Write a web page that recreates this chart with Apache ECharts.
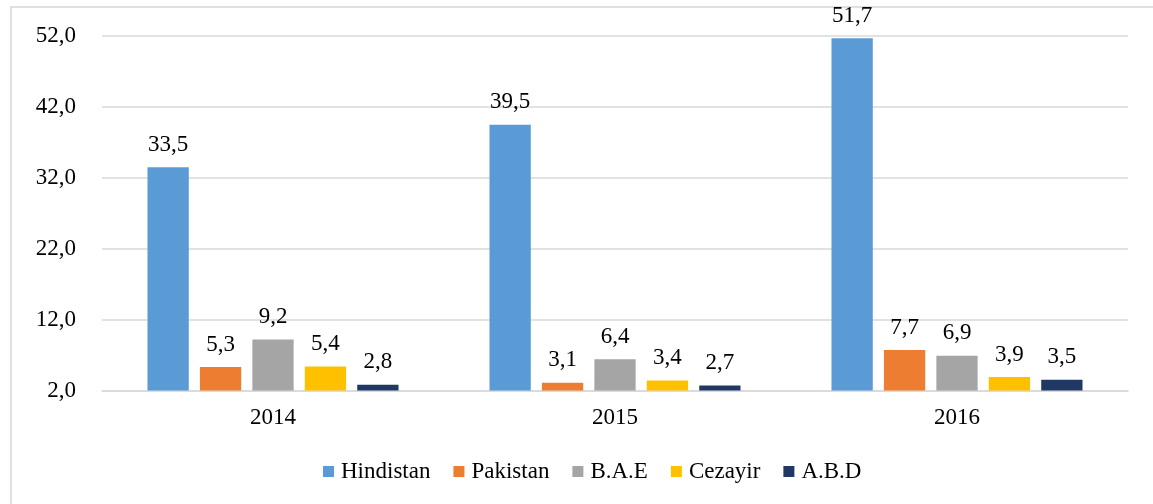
<!DOCTYPE html>
<html>
<head>
<meta charset="utf-8">
<script src="https://cdn.jsdelivr.net/npm/echarts@6/dist/echarts.min.js"></script>
<style>
  html, body { margin: 0; padding: 0; background: #fff; }
  #frame { position: absolute; left: 10px; top: 6px; width: 1160px; height: 520px; border: 2px solid #e0e0e0; }
  #main { position: absolute; left: 0; top: 0; width: 1153px; height: 504px; }
</style>
</head>
<body>
<div id="frame"></div>
<div id="main"></div>
<script>
// years on the x axis
const years = ['2014', '2015', '2016'];
// one array per country
const hindistan = [33.5, 39.5, 51.7];
const pakistan = [5.3, 3.1, 7.7];
const bae = [9.2, 6.4, 6.9];
const cezayir = [5.4, 3.4, 3.9];
const abd = [2.8, 2.7, 3.5];

const seriesNames = ['Hindistan', 'Pakistan', 'B.A.E', 'Cezayir', 'A.B.D'];
const seriesData = [hindistan, pakistan, bae, cezayir, abd];
const colors = ['#5B9BD5', '#ED7D31', '#A5A5A5', '#FFC000', '#1F3864'];

const font = '"Liberation Serif", "Times New Roman", serif';
const comma = v => v.toFixed(1).replace('.', ',');

const chart = echarts.init(document.getElementById('main'));
chart.setOption({
  animation: false,
  color: colors,
  textStyle: { fontFamily: font, color: '#000' },
  grid: { left: 102, right: 25, top: 36, bottom: 113.5 },
  legend: {
    top: 455,
    left: 318,
    itemWidth: 11,
    itemHeight: 11,
    itemGap: 23,
    icon: 'rect',
    textStyle: { fontFamily: font, fontSize: 23, color: '#000', padding: [0, 0, 0, 2] }
  },
  xAxis: {
    type: 'category',
    data: years,
    axisTick: { show: false },
    axisLine: { lineStyle: { color: '#d9d9d9', width: 1.5 } },
    axisLabel: { fontFamily: font, fontSize: 23, color: '#000', margin: 16 }
  },
  yAxis: {
    type: 'value',
    min: 2,
    max: 52,
    interval: 10,
    axisLine: { show: false },
    axisTick: { show: false },
    splitLine: { lineStyle: { color: '#d9d9d9', width: 1.5 } },
    axisLabel: { fontFamily: font, fontSize: 23, color: '#000', margin: 26, formatter: comma }
  },
  series: seriesNames.map((name, i) => ({
    name: name,
    type: 'bar',
    data: seriesData[i],
    barGap: '27%',
    barCategoryGap: '26.6%',
    label: {
      show: true,
      position: 'top',
      distance: 11,
      fontFamily: font,
      fontSize: 23,
      color: '#000',
      formatter: p => comma(p.value)
    }
  }))
});
</script>
</body>
</html>
